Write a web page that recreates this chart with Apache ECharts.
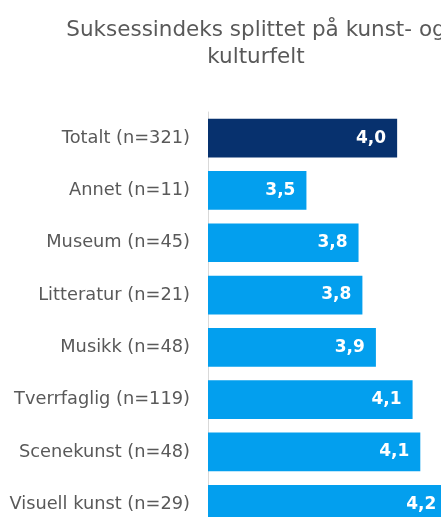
<!DOCTYPE html>
<html>
<head>
<meta charset="utf-8">
<script src="https://cdn.jsdelivr.net/npm/echarts@6/dist/echarts.min.js"></script>
<style>
  html, body { margin: 0; padding: 0; background: #fff; }
  #main { width: 441px; height: 517px; }
</style>
</head>
<body>
<div id="main"></div>
<script>
// kategorier, ovenfra og ned
var categories = ['Totalt (n=321)', 'Annet (n=11)', 'Museum (n=45)', 'Litteratur (n=21)',
  'Musikk (n=48)', 'Tverrfaglig (n=119)', 'Scenekunst (n=48)', 'Visuell kunst (n=29)'];
// suksessindeks (estimert fra bildet)
var values = [3.98, 3.51, 3.78, 3.80, 3.87, 4.06, 4.10, 4.24];
var barColors = ['#07316e', '#039fee', '#039fee', '#039fee', '#039fee', '#039fee', '#039fee', '#039fee'];

var FONT = "'DejaVu Sans', Verdana, sans-serif";

var myChart = echarts.init(document.getElementById('main'));
myChart.setOption({
  animation: false,
  title: {
    text: 'Suksessindeks splittet på kunst- og\nkulturfelt',
    left: 251,
    top: 12,
    textAlign: 'center',
    textStyle: {
      fontFamily: FONT,
      fontSize: 21.5,
      fontWeight: 'normal',
      color: '#595959',
      lineHeight: 27,
      align: 'center'
    }
  },
  grid: {
    left: 208,
    top: 112,
    width: 289.5,
    height: 418.4,
    outerBoundsMode: 'none',
    containLabel: false
  },
  xAxis: {
    type: 'value',
    min: 3,
    max: 4.5,
    show: false
  },
  yAxis: {
    type: 'category',
    inverse: true,
    data: categories,
    axisLine: { show: true, lineStyle: { color: '#d9d9d9', width: 1 } },
    axisTick: { show: false },
    axisLabel: {
      margin: 18,
      fontFamily: FONT,
      fontSize: 17.8,
      color: '#595959'
    }
  },
  series: [{
    type: 'bar',
    barCategoryGap: '26%',
    data: values.map(function (v, i) {
      return { value: v, itemStyle: { color: barColors[i] } };
    }),
    label: {
      show: true,
      position: 'insideRight',
      distance: 11,
      fontFamily: FONT,
      fontSize: 17,
      fontWeight: 'bold',
      color: '#fff',
      formatter: function (p) { return p.value.toFixed(1).replace('.', ','); }
    }
  }]
});
</script>
</body>
</html>
